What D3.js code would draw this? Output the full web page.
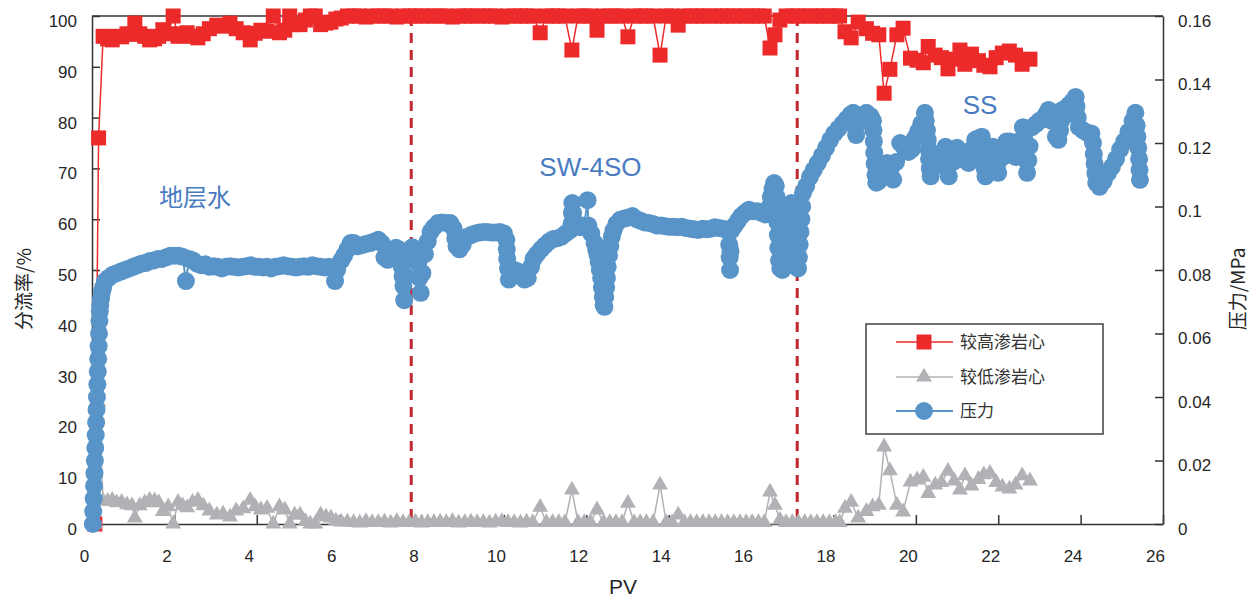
<!DOCTYPE html>
<html><head><meta charset="utf-8">
<script src="https://cdn.jsdelivr.net/npm/d3@7"></script>
<style>body{margin:0;background:#fff}svg{display:block}</style>
</head><body>
<svg id="chart" width="1255" height="598"></svg>
<script>
// ---------------- DATA ----------------
const pvFrac = [
0.07,0.16,0.27,0.38,0.49,0.6,0.72,0.85,0.97,1.04,
1.16,1.28,1.4,1.52,1.62,1.72,1.85,1.97,2.09,2.2,
2.31,2.44,2.57,2.7,2.85,3.03,3.18,3.35,3.5,3.67,
3.84,3.96,4.1,4.25,4.4,4.55,4.68,4.8,4.92,5.05,
5.18,5.3,5.42,5.55,5.68,5.8,5.92,6.05,
6.2,6.35,6.5,6.65,6.8,6.95,7.1,7.25,7.4,7.55,
7.7,7.85,8.0,8.15,8.3,8.45,8.6,8.75,8.9,9.05,
9.2,9.35,9.5,9.65,9.8,9.95,10.1,10.25,10.4,10.55,10.7,
10.88,11.03,11.18,11.33,11.48,11.65,11.8,11.95,12.1,12.26,
12.42,12.57,12.72,12.87,13.01,13.16,13.31,13.46,13.62,13.79,
13.94,14.08,14.23,
14.38,14.53,14.68,14.83,14.98,15.13,15.28,15.43,15.58,15.73,15.88,16.03,16.18,16.32,
16.46,16.58,16.7,
16.85,17.0,17.15,17.3,17.45,17.6,17.75,17.9,18.05,18.15,
18.28,18.43,18.6,18.8,18.95,19.1,19.23,19.37,19.54,19.69,
19.87,20.03,20.18,20.3,20.47,20.62,20.78,20.93,21.07,21.19,
21.35,21.52,21.65,21.8,21.95,22.1,22.27,22.42,22.58,22.77
];
const highPct = [
0,76,96,95.5,95.3,96,95.9,96.5,96.4,98.6,
96.5,96,95.3,95.5,96,97.3,96.5,100,96,96.5,
96.7,96,95.7,96.5,97.5,98.2,98,98.6,97.5,96.7,
95.3,96.6,97.2,97,100,96.7,97.2,100,98.3,98.3,
99.2,100,100,98.3,98.6,98.8,99.4,99.6,
100,100,100,99.8,100,100,100,100,99.8,100,
100,100,100,100,100,100,100,99.8,100,100,
100,100,100,100,100,99.8,100,100,100,100,100,
96.7,100,100,100,100,93.3,100,100,100,97.2,
100,100,100,100,95.9,100,100,100,100,92.3,
100,100,98.2,
100,100,100,100,100,100,100,100,100,100,100,100,100,100,
93.7,96.3,99.2,
100,100,100,100,100,100,100,100,100,100,
96.9,95.7,98.8,97.5,96.6,96.3,84.8,89.5,96.3,97.6,
91.7,91.3,90.8,94,92.3,91.8,89.6,91.5,93.3,90.5,
92.5,91.2,90.3,90,91.8,92.7,93.1,92.3,90.5,91.5
];
const lowPct = [
0,24,4.5,4.5,4.7,4.2,4.3,3.8,3.6,1.2,
3.6,4.2,4.7,4.6,4.2,2.5,3.4,0,4.3,3.6,
3.2,4.3,4.7,3.6,2.6,1.8,2.0,1.4,2.6,3.0,
4.7,3.4,2.8,3.1,0,3.4,2.8,0,1.8,1.8,
0.5,0,0,1.8,1.4,1.2,0.6,0.4,
0.4,0.3,0.2,0.5,0.3,0.3,0.4,0.2,0.5,0.3,
0.3,0.4,0.2,0.3,0.3,0.4,0.3,0.5,0.2,0.3,
0.4,0.3,0.3,0.2,0.4,0.5,0.3,0.3,0.2,0.4,0.3,
3.3,0.3,0.3,0.3,0.3,6.7,0.3,0.3,0.3,2.8,
0.3,0.3,0.3,0.3,4.1,0.3,0.3,0.3,0.3,7.7,
0.3,0.3,1.8,
0.3,0.3,0.3,0.3,0.3,0.3,0.3,0.3,0.3,0.3,0.3,0.3,0.3,0.3,
6.3,3.7,0.8,
0.3,0.3,0.3,0.3,0.3,0.3,0.3,0.3,0.3,0.3,
3.1,4.3,1.2,2.5,3.4,3.7,15.2,10.5,3.7,2.4,
8.3,8.7,9.2,6,7.7,8.2,10.4,8.5,6.7,9.5,
7.5,8.8,9.7,10,8.2,7.3,6.9,7.7,9.5,8.5
];
// pressure (MPa) vs PV, read along the dense marker band
const pressureSeries = [
[0.02,0.000],[0.03,0.004],[0.04,0.008],[0.05,0.012],[0.06,0.016],[0.07,0.020],[0.08,0.024],[0.09,0.028],[0.10,0.032],[0.11,0.036],
[0.12,0.040],[0.13,0.044],[0.14,0.048],[0.15,0.052],[0.16,0.056],[0.17,0.060],[0.18,0.064],[0.19,0.067],[0.20,0.069],[0.22,0.071],
[0.24,0.073],[0.27,0.0745],[0.32,0.0765],[0.4,0.0775],[0.5,0.0785],[0.6,0.079],[0.7,0.0795],[0.8,0.080],[0.9,0.0805],[1.0,0.081],
[1.1,0.0815],[1.2,0.082],[1.3,0.0822],[1.4,0.0828],[1.5,0.083],[1.6,0.0835],[1.7,0.0835],[1.8,0.084],[1.9,0.0845],[2.0,0.0845],
[2.1,0.0845],[2.2,0.0842],[2.28,0.0765],[2.36,0.0835],[2.45,0.083],[2.55,0.082],[2.65,0.0815],[2.75,0.0818],[2.85,0.081],[2.95,0.0812],
[3.05,0.081],[3.15,0.0805],[3.25,0.081],[3.35,0.0812],[3.45,0.081],[3.55,0.0808],[3.65,0.081],[3.75,0.0812],[3.85,0.0815],[3.95,0.081],
[4.05,0.081],[4.15,0.0808],[4.25,0.081],[4.35,0.0805],[4.45,0.081],[4.55,0.0812],[4.65,0.0815],[4.75,0.0812],[4.85,0.081],[4.95,0.0808],
[5.05,0.081],[5.15,0.0812],[5.25,0.081],[5.35,0.0815],[5.45,0.0812],[5.55,0.081],[5.65,0.0808],[5.75,0.081],[5.85,0.0805],[5.9,0.0765],
[5.95,0.080],[6.05,0.083],[6.12,0.0845],[6.2,0.0865],[6.28,0.0885],[6.36,0.0885],[6.45,0.0875],[6.55,0.0878],[6.65,0.0882],[6.75,0.0885],
[6.85,0.089],[6.95,0.0895],[7.03,0.0885],[7.1,0.084],[7.18,0.0832],[7.28,0.0855],[7.38,0.087],[7.45,0.0865],[7.5,0.084],[7.52,0.081],
[7.54,0.078],[7.56,0.075],[7.58,0.0705],[7.62,0.078],[7.68,0.084],[7.78,0.0872],[7.85,0.086],[7.92,0.082],[7.95,0.0775],[7.98,0.0728],
[8.02,0.079],[8.08,0.085],[8.15,0.089],[8.22,0.092],[8.3,0.0935],[8.4,0.0948],[8.5,0.095],[8.6,0.0948],[8.7,0.0948],[8.78,0.093],
[8.82,0.090],[8.85,0.0875],[8.92,0.0865],[9.0,0.088],[9.1,0.0904],[9.2,0.091],[9.3,0.0915],[9.4,0.0918],[9.5,0.092],[9.6,0.092],
[9.7,0.0918],[9.8,0.0918],[9.9,0.092],[10.0,0.0915],[10.06,0.0895],[10.07,0.0865],[10.08,0.0835],[10.1,0.0805],[10.12,0.077],[10.18,0.0795],
[10.26,0.080],[10.34,0.0795],[10.42,0.078],[10.5,0.077],[10.58,0.0775],[10.66,0.081],[10.72,0.0835],[10.8,0.085],[10.9,0.0865],[11.0,0.0878],
[11.1,0.089],[11.2,0.0898],[11.3,0.090],[11.4,0.0905],[11.5,0.0915],[11.6,0.0925],[11.64,0.0945],[11.65,0.098],[11.66,0.1011],[11.68,0.098],
[11.7,0.0955],[11.75,0.094],[11.85,0.0935],[11.95,0.094],[12.03,0.102],[12.05,0.094],[12.12,0.0915],[12.2,0.0885],[12.24,0.0865],[12.27,0.085],
[12.3,0.0825],[12.33,0.080],[12.36,0.0775],[12.38,0.0745],[12.4,0.0715],[12.42,0.069],[12.44,0.0684],[12.46,0.0715],[12.48,0.0745],[12.5,0.0775],
[12.52,0.081],[12.55,0.0845],[12.58,0.0875],[12.62,0.0905],[12.66,0.0925],[12.73,0.0945],[12.82,0.0958],[12.92,0.0962],[13.02,0.0965],[13.12,0.097],
[13.22,0.096],[13.32,0.0955],[13.42,0.095],[13.52,0.0948],[13.62,0.0945],[13.72,0.094],[13.82,0.094],[13.92,0.0938],[14.02,0.0936],[14.12,0.0936],
[14.22,0.0935],[14.32,0.0936],[14.42,0.0932],[14.52,0.093],[14.62,0.0928],[14.72,0.0926],[14.82,0.093],[14.92,0.0928],[15.02,0.093],[15.12,0.0935],
[15.22,0.0932],[15.32,0.093],[15.42,0.0925],[15.47,0.088],[15.48,0.084],[15.49,0.080],[15.5,0.086],[15.52,0.0925],[15.6,0.094],[15.68,0.0955],
[15.76,0.097],[15.85,0.098],[15.95,0.099],[16.05,0.0985],[16.15,0.0985],[16.25,0.098],[16.35,0.0975],[16.45,0.100],[16.48,0.103],[16.52,0.1055],
[16.56,0.1074],[16.6,0.1065],[16.62,0.103],[16.63,0.099],[16.64,0.095],[16.65,0.091],[16.66,0.087],[16.68,0.083],[16.71,0.0805],[16.76,0.080],
[16.82,0.081],[16.86,0.084],[16.88,0.087],[16.9,0.0905],[16.92,0.094],[16.95,0.0975],[16.98,0.1011],[17.0,0.0995],[17.02,0.096],[17.04,0.092],
[17.06,0.088],[17.08,0.0845],[17.1,0.081],[17.14,0.0805],[17.16,0.084],[17.18,0.088],[17.2,0.092],[17.22,0.096],[17.24,0.100],[17.26,0.1043],
[17.34,0.1065],[17.43,0.1093],[17.52,0.1115],[17.62,0.1137],[17.72,0.116],[17.82,0.1185],[17.92,0.121],[18.02,0.123],[18.12,0.1245],[18.22,0.126],
[18.32,0.1275],[18.42,0.129],[18.48,0.1295],[18.51,0.126],[18.55,0.1225],[18.62,0.1265],[18.7,0.1285],[18.8,0.1295],[18.9,0.1285],[18.96,0.127],
[18.97,0.124],[18.98,0.1205],[18.99,0.117],[19.0,0.1135],[19.02,0.110],[19.04,0.1075],[19.1,0.108],[19.2,0.111],[19.3,0.1137],[19.38,0.1115],
[19.45,0.1085],[19.52,0.114],[19.62,0.120],[19.72,0.1185],[19.82,0.1172],[19.9,0.118],[19.98,0.1215],[20.05,0.1235],[20.13,0.126],[20.22,0.1295],
[20.24,0.127],[20.27,0.124],[20.29,0.121],[20.31,0.118],[20.32,0.115],[20.34,0.112],[20.36,0.1095],[20.45,0.1125],[20.55,0.115],[20.65,0.117],
[20.72,0.1188],[20.74,0.116],[20.77,0.1125],[20.8,0.1095],[20.9,0.114],[21.0,0.1185],[21.1,0.117],[21.2,0.1145],[21.28,0.1137],[21.36,0.118],
[21.44,0.121],[21.52,0.1215],[21.6,0.122],[21.62,0.1185],[21.65,0.115],[21.67,0.112],[21.69,0.1095],[21.78,0.114],[21.87,0.1188],[21.94,0.1145],
[21.97,0.113],[22.0,0.1106],[22.1,0.1155],[22.2,0.1205],[22.28,0.1205],[22.36,0.117],[22.42,0.1156],[22.5,0.1205],[22.6,0.125],[22.63,0.1215],
[22.66,0.118],[22.68,0.1145],[22.7,0.1106],[22.73,0.1145],[22.76,0.119],[22.82,0.125],[22.92,0.126],[23.0,0.127],[23.08,0.1275],[23.16,0.129],
[23.22,0.1304],[23.3,0.127],[23.4,0.122],[23.46,0.121],[23.5,0.124],[23.53,0.127],[23.56,0.1304],[23.64,0.131],[23.72,0.132],[23.8,0.133],
[23.88,0.1345],[23.9,0.1315],[23.93,0.128],[23.96,0.125],[24.06,0.124],[24.16,0.1232],[24.26,0.123],[24.3,0.120],[24.32,0.1165],[24.34,0.1135],
[24.36,0.1105],[24.38,0.1074],[24.46,0.1062],[24.56,0.108],[24.66,0.1105],[24.76,0.1125],[24.86,0.115],[24.96,0.118],[25.06,0.1205],[25.16,0.1235],
[25.26,0.127],[25.33,0.1295],[25.36,0.1255],[25.38,0.122],[25.4,0.1185],[25.42,0.115],[25.43,0.1115],[25.44,0.1084]
];
const stageBounds = [7.75, 17.12];
const stageNames = ["地层水", "SW-4SO", "SS"];
const seriesNames = ["较高渗岩心", "较低渗岩心", "压力"];
const xTicks = d3.range(0, 27, 2);
const yLeftTicks = d3.range(0, 101, 10);
const yRightTicks = [0, 0.02, 0.04, 0.06, 0.08, 0.1, 0.12, 0.14, 0.16];

// ---------------- DRAW ----------------
const svg = d3.select("#chart");
const L = 92, R = 1163, T = 16, B = 524;
const x = d3.scaleLinear().domain([0, 26]).range([L, R]);
const yL = d3.scaleLinear().domain([0, 100]).range([B, T]);
const yR = d3.scaleLinear().domain([0, 0.16]).range([B, T]);

const RED = "#ED2A2A", GRAY = "#B1B2B5", BLUE = "#5894C8", TXT = "#262626", AX = "#333";
const numFont = "'Liberation Sans', Arial, sans-serif";
const cjkFont = "'Noto Sans CJK SC', 'Liberation Sans', sans-serif";

// stage boundaries
svg.append("g").selectAll("line").data(stageBounds).join("line")
  .attr("x1", d => x(d)).attr("x2", d => x(d)).attr("y1", T).attr("y2", B)
  .attr("stroke", "#C0272F").attr("stroke-width", 3).attr("stroke-dasharray", "10,7");

// frame
svg.append("line").attr("x1", L).attr("x2", R).attr("y1", T).attr("y2", T).attr("stroke", AX).attr("stroke-width", 1.5);

function styleAxis(g) {
  g.select(".domain").attr("stroke", AX).attr("stroke-width", 1.5);
  g.selectAll(".tick line").attr("stroke", AX).attr("stroke-width", 1.5);
  g.selectAll(".tick text").attr("fill", TXT).style("font-family", numFont).style("font-size", "17px");
}
const gx = svg.append("g").attr("transform", `translate(0,${B})`)
  .call(d3.axisBottom(x).tickValues(xTicks).tickSizeInner(-9).tickSizeOuter(0).tickPadding(26).tickFormat(d3.format("d")));
styleAxis(gx); gx.selectAll(".tick text").attr("dx", -8);
const gl = svg.append("g").attr("transform", `translate(${L},0)`)
  .call(d3.axisLeft(yL).tickValues(yLeftTicks).tickSizeInner(-8).tickSizeOuter(0).tickPadding(15));
styleAxis(gl); gl.selectAll(".tick text").attr("dy", "0.32em").attr("y", 5);
const gr = svg.append("g").attr("transform", `translate(${R},0)`)
  .call(d3.axisRight(yR).tickValues(yRightTicks).tickSizeInner(-8).tickSizeOuter(0).tickPadding(15)
  .tickFormat(d => d === 0 ? "0" : String(+d.toFixed(2))));
styleAxis(gr); gr.selectAll(".tick text").attr("dy", "0.32em").attr("y", 5);

// axis titles
svg.append("text").attr("x", 623).attr("y", 594).attr("text-anchor", "middle")
  .style("font-family", numFont).style("font-size", "21px").attr("fill", TXT).text("PV");
svg.append("text").attr("transform", "translate(31,289) rotate(-90)").attr("text-anchor", "middle")
  .style("font-family", cjkFont).style("font-size", "19px").attr("fill", TXT).text("分流率/%");
svg.append("text").attr("transform", "translate(1245,289) rotate(-90)").attr("text-anchor", "middle")
  .style("font-family", cjkFont).style("font-size", "19px").attr("fill", TXT).text("压力/MPa");

// series
const n = Math.min(pvFrac.length, highPct.length, lowPct.length);
const hi = d3.range(n).map(i => [pvFrac[i], highPct[i]]);
const lo = d3.range(n).map(i => [pvFrac[i], lowPct[i]]);
const lineL = d3.line().x(d => x(d[0])).y(d => yL(d[1]));
const lineR = d3.line().x(d => x(d[0])).y(d => yR(d[1]));
const sq = d3.symbol().type(d3.symbolSquare).size(225);
const tri = d3.symbol().type(d3.symbolTriangle).size(110);

svg.append("path").datum(hi).attr("d", lineL).attr("fill", "none").attr("stroke", RED).attr("stroke-width", 1.5);
svg.append("g").selectAll("path").data(hi).join("path")
  .attr("transform", d => `translate(${x(d[0])},${yL(d[1])})`).attr("d", sq).attr("fill", RED);

svg.append("path").datum(lo).attr("d", lineL).attr("fill", "none").attr("stroke", GRAY).attr("stroke-width", 1.5);
svg.append("g").selectAll("path").data(lo).join("path")
  .attr("transform", d => `translate(${x(d[0])},${yL(d[1])})`).attr("d", tri).attr("fill", GRAY);

svg.append("path").datum(pressureSeries).attr("d", lineR).attr("fill", "none").attr("stroke", BLUE).attr("stroke-width", 2);
svg.append("g").selectAll("circle").data(pressureSeries).join("circle")
  .attr("cx", d => x(d[0])).attr("cy", d => yR(d[1])).attr("r", 9).attr("fill", BLUE);

// stage labels (placed in data coordinates)
const stagePos = [[2.5, 62.6], [12.1, 68.6], [21.56, 80.8]];
svg.append("g").selectAll("text").data(stageNames).join("text")
  .attr("x", (d, i) => x(stagePos[i][0])).attr("y", (d, i) => yL(stagePos[i][1]))
  .attr("text-anchor", "middle").attr("fill", "#4A7BC1")
  .style("font-family", (d, i) => i === 0 ? cjkFont : numFont).style("font-size", (d, i) => i === 0 ? "24px" : "26px")
  .text(d => d);

// legend
const lg = svg.append("g");
lg.append("rect").attr("x", 866).attr("y", 324).attr("width", 237).attr("height", 110)
  .attr("fill", "#fff").attr("stroke", "#404040").attr("stroke-width", 1.5);
const legY = [342, 377, 411];
const legCol = [RED, GRAY, BLUE];
seriesNames.forEach((name, i) => {
  lg.append("line").attr("x1", 896).attr("x2", 953).attr("y1", legY[i]).attr("y2", legY[i])
    .attr("stroke", legCol[i]).attr("stroke-width", i === 2 ? 2 : 1.5);
  if (i === 0) lg.append("path").attr("transform", `translate(924,${legY[i]})`).attr("d", sq).attr("fill", RED);
  if (i === 1) lg.append("path").attr("transform", `translate(924,${legY[i]})`).attr("d", tri).attr("fill", GRAY);
  if (i === 2) lg.append("circle").attr("cx", 924).attr("cy", legY[i]).attr("r", 9).attr("fill", BLUE);
  lg.append("text").attr("x", 960).attr("y", legY[i]).attr("dy", "0.36em")
    .style("font-family", cjkFont).style("font-size", "17px").attr("fill", "#333").text(name);
});
</script>
</body></html>
